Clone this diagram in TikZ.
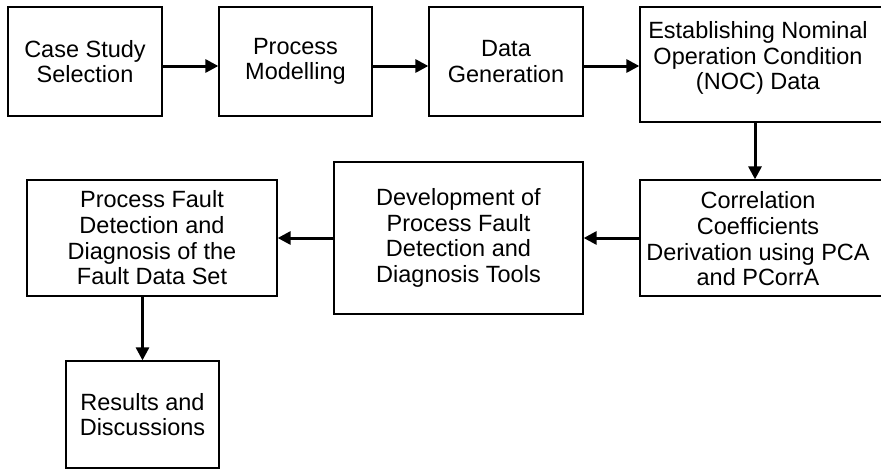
\documentclass[tikz,border=0pt]{standalone}
\usepackage{fontspec}
\setmainfont{Liberation Sans}
\usetikzlibrary{arrows.meta}
\begin{document}
\begin{tikzpicture}[x=1pt,y=-1pt,
  box/.style={draw=black,line width=1.3pt,rectangle,inner sep=0pt,align=center,
    font=\fontsize{23.5}{25.7}\selectfont},
  txt/.style={inner sep=0pt,align=center,font=\fontsize{23.5}{25.7}\selectfont},
  flow/.style={line width=3pt,-{Triangle[length=13pt,width=13pt]}}]
\useasboundingbox (0,0) rectangle (881,469);
\clip (0,0) rectangle (881,469);
% boxes
\node[box,minimum width=154pt,minimum height=109pt] (b1) at (85,61.5) {Case Study\\Selection};
\node[box,minimum width=153pt,minimum height=109pt] (b2) at (295.5,61.5) {Process\\Modelling};
\node[box,minimum width=154pt,minimum height=109pt] (b3) at (506,61.5) {Data\\Generation};
\node[box,minimum width=243pt,minimum height=115pt] (b4) at (761.5,64.5) {};
\node[txt] (t4) at (758,58) {Establishing Nominal\\Operation Condition\\(NOC) Data};
\node[box,minimum width=243pt,minimum height=116pt] (b5) at (761.5,238) {};
\node[txt] (t5) at (758,239) {Correlation\\Coefficients\\Derivation using PCA\\and PCorrA};
\node[box,minimum width=249pt,minimum height=152pt] (b6) at (458.5,238) {Development of\\Process Fault\\Detection and\\Diagnosis Tools};
\node[box,minimum width=250pt,minimum height=116pt] (b7) at (152,238) {Process Fault\\Detection and\\Diagnosis of the\\Fault Data Set};
\node[box,minimum width=153pt,minimum height=107pt] (b8) at (142.5,414.5) {Results and\\Discussions};
% connectors
\draw[flow] ([yshift=-4.5pt]b1.east) -- ([yshift=-4.5pt]b2.west);
\draw[flow] ([yshift=-4.5pt]b2.east) -- ([yshift=-4.5pt]b3.west);
\draw[flow] ([yshift=-4.5pt]b3.east) -- ([yshift=-1.5pt]b4.west);
\draw[flow] ([xshift=-6.5pt]b4.south) -- ([xshift=-6.5pt]b5.north);
\draw[flow] (b5.west) -- (b6.east);
\draw[flow] (b6.west) -- (b7.east);
\draw[flow] (b7.south -| b8.north) -- (b8.north);
\end{tikzpicture}
\end{document}
